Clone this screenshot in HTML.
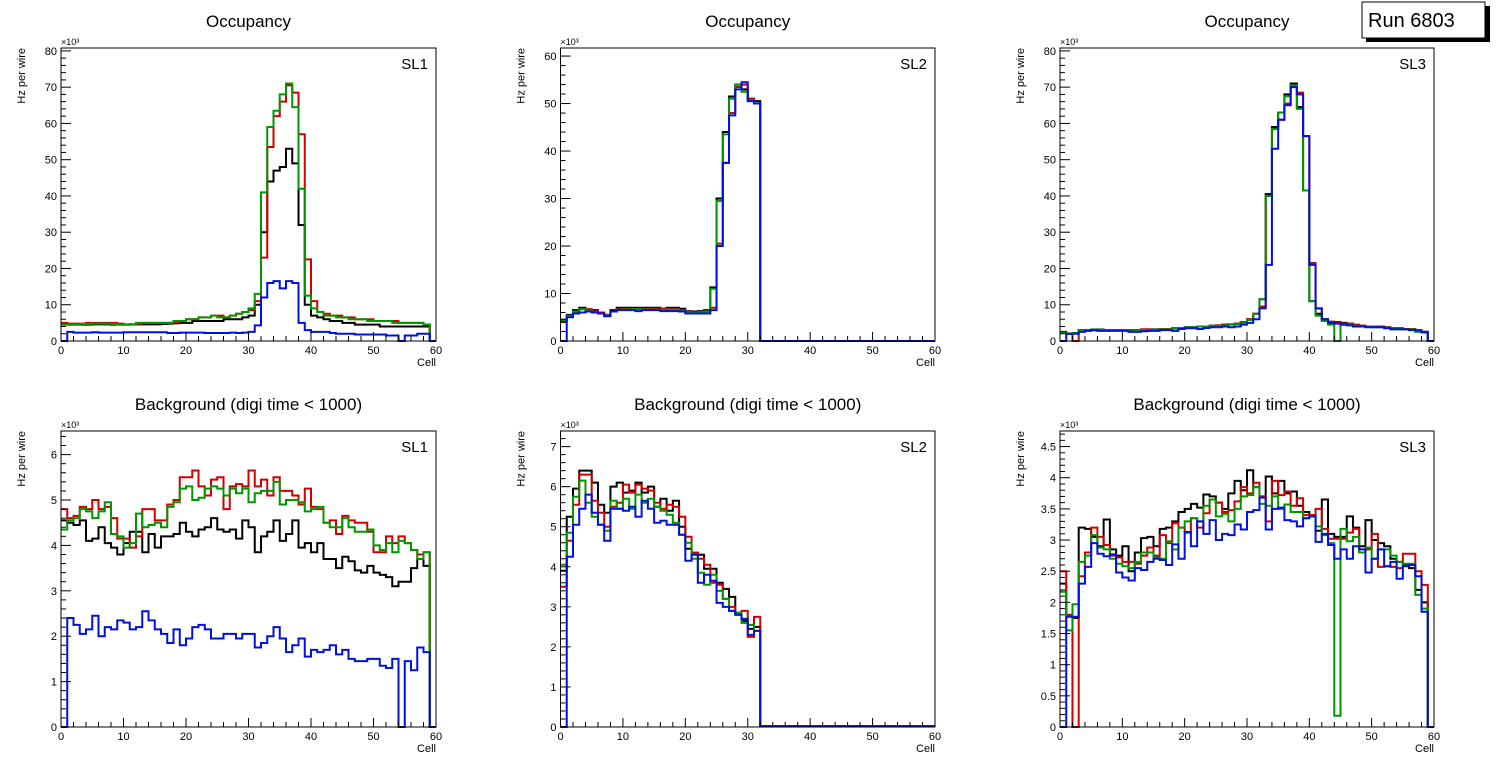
<!DOCTYPE html>
<html><head><meta charset="utf-8"><style>
body{margin:0;background:#fff;}
svg{display:block;font-family:"Liberation Sans",Arial,sans-serif;}
</style></head><body>
<svg id="c" width="1496" height="772" viewBox="0 0 1496 772">
<g>
<rect x="1366" y="6" width="124" height="36" fill="#000"/>
<rect x="1362" y="2" width="123" height="36" fill="#fff" stroke="#000" stroke-width="1"/>
<text x="1368" y="27" font-size="20">Run 6803</text>
</g>
</svg>
<script>
// ---- data (Hz per wire; top row in 10^3, bottom row in 10^3) ----
const cells = Array.from({length:60},(_,i)=>i);
const xTicks = [0,10,20,30,40,50,60];
const seriesNames = ["black","red","green","blue"];

const occSL1_black=[4.5,4.5,4.5,4.5,4.5,4.6,4.6,4.6,4.5,4.5,4.5,4.6,4.6,4.6,4.6,4.6,4.7,4.8,4.9,5,5,5.5,5.5,5.5,5.5,5.5,6,6,6,6.5,7,10,30,44,47,48,53,49,32,10,7,6.5,6,5.5,5.5,5,5,4.5,4.5,4.5,4.5,4,4,4,4,4,4,4,4,0];
const occSL1_red=[5,4.8,4.8,4.8,5,5,5,5,5,4.8,4.6,4.6,4.8,5,5,5,5,5,5.2,5.5,6,6,6.5,6.5,7,7,6.5,7,7.5,8,8.5,11,23,53.5,62,66,70.5,68.5,57,22.5,11,8,7.5,7,7,6.5,6.5,6,6,6,5.5,5.5,5.5,5.5,5,5,5,5,4.5,0];
const occSL1_green=[4.5,4.5,4.6,4.7,4.7,4.8,4.8,4.8,4.7,4.6,4.5,4.5,5,5,5,5,5,5,5.5,5.5,6,6,6.5,6.5,7,6.5,6.5,7,7.5,8,9,13,41,59,63.5,68,71,64.5,42,12.5,9,8,7,7,6.5,6.5,6,6,6,5.5,5.5,5.5,5.5,5,5,5,5,5,4.5,0];
const occSL1_blue=[0,2.5,2.3,2.3,2.3,2.4,2.3,2.3,2.3,2.3,2.4,2.4,2.4,2.4,2.4,2.4,2.4,2.2,2.2,2.3,2.3,2.3,2.3,2.2,2.2,2.2,2.2,2.3,2.2,2.3,2.5,4.3,12,16,16.5,14.5,16.5,16,5,3,2.5,2.5,2.5,2.2,2,2,2,1.8,1.8,1.8,1.8,1.8,1.5,1.5,0,1.5,1.5,2,2,0];

const occSL2_black=[4.5,5.5,6.5,7,6.5,6.5,6,5.5,6.5,7,7,7,7,7,7,7,6.8,7,7,6.8,6.3,6.2,6.3,6.5,11.3,30,44,51.5,54,53,51,50.5,0,0,0,0,0,0,0,0,0,0,0,0,0,0,0,0,0,0,0,0,0,0,0,0,0,0,0,0];
const occSL2_red=[4,5.3,6.2,6.7,6.7,6.3,6,5.5,6.2,6.7,6.8,6.8,6.8,6.8,6.8,6.8,6.8,6.8,6.8,6.5,6.2,6,6.1,6.3,7,20.5,37.5,48,53.5,54,51,50,0,0,0,0,0,0,0,0,0,0,0,0,0,0,0,0,0,0,0,0,0,0,0,0,0,0,0,0];
const occSL2_green=[4.3,5.3,6.2,6.7,6.4,6,5.8,5.4,6.2,6.6,6.6,6.7,6.7,6.6,6.6,6.6,6.5,6.6,6.6,6.3,6,6,6,6.2,11,29.5,43.5,51,54,52.5,50.5,50,0,0,0,0,0,0,0,0,0,0,0,0,0,0,0,0,0,0,0,0,0,0,0,0,0,0,0,0];
const occSL2_blue=[0,5,5.8,6,6.2,6,5.8,5.2,6.2,6.5,6.5,6.5,6.3,6.5,6.5,6.5,6.3,6.3,6.3,6.2,5.8,5.8,5.8,5.8,6.5,20,37.5,47.5,53,54.5,50.5,50,0,0,0,0,0,0,0,0,0,0,0,0,0,0,0,0,0,0,0,0,0,0,0,0,0,0,0,0];

const occSL3_black=[2.5,2,2.2,3,3,3,3,3,3,3,3,3,3,3.2,3.2,3.2,3.3,3.3,3.5,3.6,3.8,3.8,4,4,4.2,4.3,4.5,4.6,4.8,5.2,6,7.5,11.5,40.5,59,63,68,71,64.5,41.5,11,7.5,6,5.3,5.2,5,4.8,4.2,4.2,4,4,4,3.8,3.6,3.5,3.3,3.3,2.8,2.5,0];
const occSL3_red=[2.3,2,0,3,3,3,3.2,3,3,3,3,3,3,3.2,3.2,3.2,3.3,3.3,3.5,3.6,3.8,3.8,4,4,4.2,4.3,4.5,4.6,4.8,5.2,6,7.5,9.5,40,58.5,61,65.5,70.5,68.5,56.5,21.5,9,6,5.3,5,4.8,4.8,4.5,4.2,4,4,4,3.8,3.6,3.5,3.3,3.3,2.8,2.5,0];
const occSL3_green=[2.3,2,2.2,3,3,3.2,3.2,3,3,3,3,2.8,3,3,3,3.2,3.2,3.2,3.5,3.5,3.8,3.8,4,4,4.2,4.2,4.3,4.5,4.7,5,5.8,7.5,11.5,40,58.5,63,67.5,70.5,64,41.5,11,7,5.5,4.5,0,4.5,4.5,4.2,4,4,3.8,3.8,3.7,3.5,3.3,3.2,3.2,2.5,2.3,0];
const occSL3_blue=[0,2,2,2.5,2.8,3,2.8,2.8,2.8,2.8,2.8,2.5,2.5,2.7,2.8,2.8,3,3,2.8,3.3,3.5,3.5,3.3,3.6,3.8,3.8,4,3.8,4,4.5,5,6,9,21,53,61,65,70,68,56.5,21,9,6,5,4.8,4.5,4.3,4,4,3.8,3.8,3.8,3.5,3.2,3.2,3.2,3,3,2.5,0];

const bkgSL1_black=[4.55,4.5,4.45,4.55,4.1,4.15,4.4,4.05,3.95,3.8,4.05,4.3,4.3,3.85,4.25,3.95,4.2,4.2,4.25,4.5,4.3,4.2,4.35,4.4,4.6,4.35,4.3,4.35,4.15,4.55,4.4,3.85,4.2,4.3,4.55,4.1,4.25,4.55,3.95,4.05,3.85,4.05,3.7,3.7,3.5,3.75,3.65,3.45,3.4,3.55,3.4,3.35,3.3,3.1,3.2,3.2,3.5,3.7,3.55,0];
const bkgSL1_red=[4.8,4.6,4.65,4.85,4.8,5,4.8,4.85,4.6,4.15,4.15,3.95,4.2,4.8,4.8,4.55,4.55,4.9,5,5.5,5.5,5.65,5.3,5.1,5.45,5.5,4.8,5.3,5.35,5.3,5.65,5.3,5.45,5.1,5.5,5.2,5.2,5.1,4.9,5.25,4.85,4.8,4.5,4.55,4.25,4.65,4.55,4.5,4.5,4.3,3.85,3.85,4.2,4.05,4.2,4.05,3.9,3.8,3.85,0];
const bkgSL1_green=[4.35,4.55,4.6,4.8,4.75,4.6,4.75,4.95,4.25,4.2,3.95,4.05,4.7,4.4,4.45,4.5,4.4,4.85,4.95,5.25,5.3,5,5.05,5.25,5.3,5.25,5.1,5.25,5.15,5.25,4.95,5.15,5.2,5.2,5.4,4.9,5,5,4.95,4.75,4.8,4.85,4.5,4.4,4.4,4.6,4.4,4.3,4.3,4.35,4,3.9,4.05,3.85,4.1,4.05,3.9,3.7,3.85,0];
const bkgSL1_blue=[0,2.4,2.25,2.05,2.15,2.45,2,2.2,2.15,2.35,2.3,2.15,2.2,2.55,2.35,2.15,2.05,1.85,2.15,1.8,1.95,2.2,2.25,2.15,1.95,1.95,2.05,2.05,1.95,2.05,2.05,1.75,1.85,2,2.2,1.95,1.65,1.8,1.95,1.55,1.7,1.65,1.7,1.8,1.6,1.7,1.5,1.45,1.45,1.5,1.5,1.35,1.3,1.5,0,1.45,1.25,1.75,1.65,0];

const z28=new Array(28).fill(0.02);
const bkgSL2_black=[3.9,5.25,5.95,6.4,6.4,6.1,5.55,5.35,6,6.1,5.85,5.9,6.1,5.85,6,5.5,5.7,5.4,5.65,5,4.45,4.35,4.3,3.95,3.95,3.6,3.45,3.25,2.85,2.65,2.45,2.5].concat(z28);
const bkgSL2_red=[3.5,4.65,5.55,6.3,6.3,5.65,5.35,5,5.5,5.6,6.05,5.85,6.05,5.95,5.9,5.6,5.45,5.55,5.5,5.25,4.75,4.35,4.2,4.05,3.6,3.55,3.2,3,2.85,2.9,2.25,2.75].concat(z28);
const bkgSL2_green=[4.05,4.85,5.75,6.15,5.6,5.25,5.05,4.9,5.65,5.45,5.7,5.45,5.8,5.6,5.7,5.5,5.4,5.3,5.1,4.8,4.6,4.2,3.85,3.55,3.8,3.4,3.2,2.9,2.85,2.6,2.55,2.4].concat(z28);
const bkgSL2_blue=[0,4.25,5.05,5.45,5.8,5.35,5.05,4.65,5.45,5.45,5.4,5.5,5.25,5.65,5.45,5.1,5.15,5.05,5.05,4.8,4.15,4.3,3.6,3.8,3.65,3.1,3,2.9,2.8,2.7,2.3,2.4].concat(z28);

const bkgSL3_black=[2.3,1.8,1.75,3.2,3.18,3.05,2.9,3.33,2.85,2.75,2.9,2.5,2.8,3.03,3.05,2.9,3.18,3.2,3.3,3.45,3.5,3.58,3.52,3.73,3.7,3.6,3.5,3.75,3.95,3.8,4.12,3.85,3.7,4.02,3.75,3.95,3.75,3.78,3.55,3.45,3.4,3.15,3.65,3.1,3.05,3.05,3.38,3.2,2.9,3.32,3,2.95,2.9,2.7,2.65,2.6,2.55,2.2,2,0];
const bkgSL3_red=[2.5,1.8,0,2.42,2.8,3.2,3.05,2.92,2.75,2.72,2.65,2.65,2.62,2.75,2.88,2.75,3.08,2.95,3.27,3.2,3.12,3.35,3.2,3.43,3.65,3.6,3.45,3.48,3.62,3.85,3.75,3.92,3.7,3.3,3.95,3.72,3.78,3.55,3.67,3.4,3.4,3.5,3.18,3.02,3.02,3.02,3.12,3.18,2.8,2.85,3.1,2.57,2.58,2.57,2.55,2.78,2.78,2.5,2.28,0];
const bkgSL3_green=[2.17,1.55,1.97,2.65,2.75,3.08,2.88,2.85,2.7,2.62,2.58,2.55,2.65,2.8,2.8,2.72,2.7,2.98,2.85,3.2,3.3,3.35,3.3,3.55,3.65,3.38,3.42,3.3,3.5,3.7,3.72,3.85,3.58,3.55,3.7,3.5,3.57,3.45,3.45,3.35,3.38,3.22,3.08,2.95,0.18,3.18,2.98,3.05,2.8,2.88,2.7,2.85,2.85,2.75,2.65,2.62,2.62,2.12,1.9,0];
const bkgSL3_blue=[0,1.77,1.77,2.3,2.57,2.95,2.78,2.74,2.77,2.48,2.4,2.35,2.55,2.52,2.65,2.7,2.68,2.6,2.93,2.7,3.13,2.9,3.3,3.1,3.32,3,3.1,3.08,3.25,3.17,3.45,3.48,3.68,3.17,3.5,3.52,3.32,3.3,3.22,3.35,3.38,2.97,3.1,2.92,2.7,2.85,2.7,2.9,2.85,2.48,2.7,2.85,2.58,2.65,2.38,2.58,2.6,2.42,1.85,0];

const yTicksOcc=[0,10,20,30,40,50,60,70,80];
const yTicksB1=[0,1,2,3,4,5,6];
const yTicksB2=[0,1,2,3,4,5,6,7];
const yTicksB3=[0,0.5,1,1.5,2,2.5,3,3.5,4,4.5];

// ---- layout ----
const colors={black:"#000000",red:"#d00000",green:"#009600",blue:"#0010dd"};
const panels=[
 {name:"occupancy-sl1",title:"Occupancy",sl:"SL1",x0:61,x1:436,y0:48,y1:341,ymax:80.8,ticks:yTicksOcc,minor:2,fmt:v=>v,data:[occSL1_black,occSL1_red,occSL1_green,occSL1_blue]},
 {name:"occupancy-sl2",title:"Occupancy",sl:"SL2",x0:560.5,x1:935,y0:48,y1:341,ymax:61.7,ticks:yTicksOcc.slice(0,7),minor:2,fmt:v=>v,data:[occSL2_black,occSL2_red,occSL2_green,occSL2_blue]},
 {name:"occupancy-sl3",title:"Occupancy",sl:"SL3",x0:1060,x1:1434,y0:48,y1:341,ymax:80.8,ticks:yTicksOcc,minor:2,fmt:v=>v,data:[occSL3_black,occSL3_red,occSL3_green,occSL3_blue]},
 {name:"background-sl1",title:"Background (digi time < 1000)",sl:"SL1",x0:61,x1:436,y0:431,y1:727,ymax:6.52,ticks:yTicksB1,minor:0.2,fmt:v=>v,data:[bkgSL1_black,bkgSL1_red,bkgSL1_green,bkgSL1_blue]},
 {name:"background-sl2",title:"Background (digi time < 1000)",sl:"SL2",x0:560.5,x1:935,y0:431,y1:727,ymax:7.39,ticks:yTicksB2,minor:0.2,fmt:v=>v,data:[bkgSL2_black,bkgSL2_red,bkgSL2_green,bkgSL2_blue]},
 {name:"background-sl3",title:"Background (digi time < 1000)",sl:"SL3",x0:1060,x1:1434,y0:431,y1:727,ymax:4.75,ticks:yTicksB3,minor:0.1,fmt:v=>v,data:[bkgSL3_black,bkgSL3_red,bkgSL3_green,bkgSL3_blue]}
];
const NS="http://www.w3.org/2000/svg";
const svg=document.getElementById("c");
function mk(tag,attrs,parent,text){const e=document.createElementNS(NS,tag);for(const k in attrs)e.setAttribute(k,attrs[k]);if(text!==undefined)e.textContent=text;parent.appendChild(e);return e;}

panels.forEach(p=>{
 const g=mk("g",{},svg);
 
 
 const xs=v=>p.x0+(p.x1-p.x0)*v/60;
 const ys=v=>p.y1-(p.y1-p.y0)*v/p.ymax;
 const cx=(p.x0+p.x1)/2;
 const t=mk("text",{x:cx,y:p.y0-21,"font-size":17,"text-anchor":"middle"},g,p.title);
 
 
 // histograms
 p.data.forEach((arr,si)=>{
  let d="M"+xs(0)+","+ys(arr[0]);
  for(let i=0;i<arr.length;i++){
   d+=" L"+xs(cells[i])+","+ys(arr[i])+" L"+xs(cells[i]+1)+","+ys(arr[i]);
  }
  const path=mk("path",{d:d,fill:"none",stroke:colors[seriesNames[si]],"stroke-width":2,"stroke-linejoin":"miter"},g);
  
  
 });
 // frame
 const fr=mk("rect",{x:p.x0,y:p.y0,width:p.x1-p.x0,height:p.y1-p.y0,fill:"none",stroke:"#000","stroke-width":1},g);
 
 
 // x ticks
 for(let v=0;v<=60;v+=2){
  const major=v%10===0;
  mk("line",{x1:xs(v),x2:xs(v),y1:p.y1,y2:p.y1-(major?9:5),stroke:"#000","stroke-width":1},g);
 }
 xTicks.forEach(v=>{
  const l=mk("text",{x:xs(v),y:p.y1+13,"font-size":11,"text-anchor":"middle"},g,v);
  
  
 });
 const xt=mk("text",{x:p.x1,y:p.y1+25,"font-size":11,"text-anchor":"end"},g,"Cell");
 
 
 // y ticks
 const step=p.ticks[1]-p.ticks[0];
 for(let k=0;k*p.minor<=p.ymax+1e-9;k++){
  const v=k*p.minor;
  const major=Math.abs(v/step-Math.round(v/step))<1e-6;
  mk("line",{x1:p.x0,x2:p.x0+(major?10:5),y1:ys(v),y2:ys(v),stroke:"#000","stroke-width":1},g);
 }
 p.ticks.forEach(v=>{
  const l=mk("text",{x:p.x0-4,y:ys(v)+4,"font-size":11,"text-anchor":"end"},g,p.fmt(v));
  
  
 });
 const ex=mk("text",{x:p.x0,y:p.y0-3,"font-size":9},g,"×10³");
 
 
 const yt=mk("text",{x:0,y:0,"font-size":11,"text-anchor":"end",transform:"translate("+(p.x0-36)+","+(p.y0)+") rotate(-90)"},g,"Hz per wire");
 
 
 const sl=mk("text",{x:p.x1-8,y:p.y0+21,"font-size":15,"text-anchor":"end"},g,p.sl);
 
 
});
</script>
</body></html>
